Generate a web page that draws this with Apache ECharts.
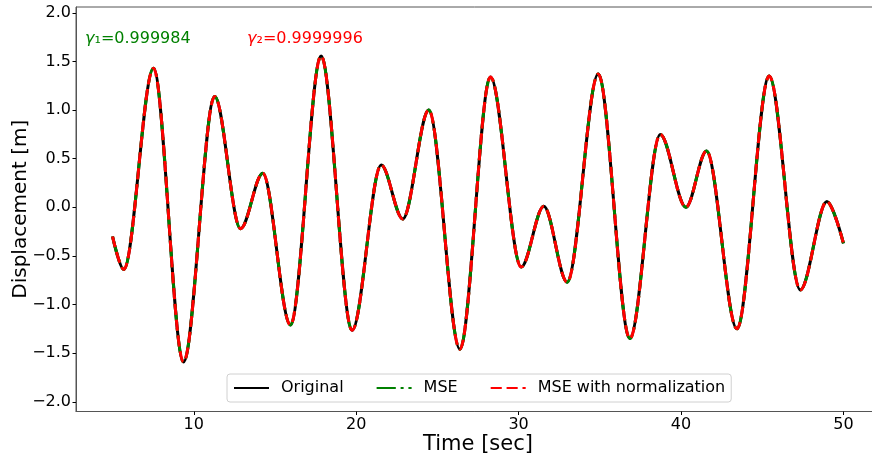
<!DOCTYPE html>
<html><head><meta charset="utf-8">
<script src="https://cdn.jsdelivr.net/npm/echarts@6/dist/echarts.min.js"></script>
<style>html,body{margin:0;padding:0;background:#fff}#c{width:872px;height:459px}</style>
</head><body><div id="c"></div>
<script>
// Time [sec] of the curve's start, turning points and end
const timeSec = [5.00, 5.69, 7.52, 9.37, 11.29, 12.88, 14.25, 15.95, 17.84, 19.75, 21.54, 22.87, 24.47, 26.38, 28.27, 30.16, 31.55, 32.99, 34.90, 36.85, 38.72, 40.30, 41.57, 43.44, 45.43, 47.34, 48.98, 50.00];
// Displacement [m]
const originalDisp = [-0.30, -0.64, 1.43, -1.59, 1.14, -0.22, 0.35, -1.21, 1.555, -1.265, 0.435, -0.12, 1.00, -1.46, 1.34, -0.615, 0.01, -0.77, 1.37, -1.35, 0.75, 0.00, 0.58, -1.25, 1.35, -0.85, 0.06, -0.37];
const mseDisp = [-0.30, -0.64, 1.43, -1.59, 1.14, -0.22, 0.35, -1.21, 1.555, -1.265, 0.435, -0.12, 1.00, -1.46, 1.34, -0.615, 0.01, -0.77, 1.37, -1.35, 0.75, 0.00, 0.58, -1.25, 1.35, -0.85, 0.06, -0.37];
const mseNormDisp = [-0.30, -0.64, 1.43, -1.59, 1.14, -0.22, 0.35, -1.21, 1.555, -1.265, 0.435, -0.12, 1.00, -1.46, 1.34, -0.615, 0.01, -0.77, 1.37, -1.35, 0.75, 0.00, 0.58, -1.25, 1.35, -0.85, 0.06, -0.37];
const xTicks = [10, 20, 30, 40, 50];
const yTicks = [-2, -1.5, -1, -0.5, 0, 0.5, 1, 1.5, 2];
const seriesNames = ['Original', 'MSE', 'MSE with normalization'];
const gammaLabels = ['0.999984', '0.9999996'];

const pair = arr => timeSec.map((t, i) => [t, arr[i]]);
const FONT = 'DejaVu Sans';

const chart = echarts.init(document.getElementById('c'), null, {renderer: 'canvas'});
const lineCommon = {type: 'line', smooth: 0.3333, smoothMonotone: 'x', symbol: 'none', showSymbol: false};
chart.setOption({
  animation: false,
  backgroundColor: '#ffffff',
  textStyle: {fontFamily: FONT},
  grid: {left: 76, right: -8, top: 7, bottom: 47.5, show: true, borderColor: '#555', borderWidth: 1,
    containLabel: false, outerBoundsMode: 'none'},
  xAxis: {
    type: 'value', min: 2.75, max: 52.25,
    name: 'Time [sec]', nameLocation: 'middle', nameGap: 23, nameMoveOverlap: false,
    nameTextStyle: {fontSize: 21, color: '#000', fontFamily: FONT},
    axisLine: {show: true, onZero: false, lineStyle: {color: '#555', width: 1}},
    axisTick: {show: true, length: 3.5, customValues: xTicks, lineStyle: {color: '#000'}},
    axisLabel: {customValues: xTicks, fontSize: 16, color: '#000', margin: 5, fontFamily: FONT},
    splitLine: {show: false}
  },
  yAxis: {
    type: 'value', min: -2.1, max: 2.06,
    name: 'Displacement [m]', nameLocation: 'middle', nameGap: 45, nameMoveOverlap: false,
    nameTextStyle: {fontSize: 20, color: '#000', fontFamily: FONT},
    axisLine: {show: true, onZero: false, lineStyle: {color: '#555', width: 1}},
    axisTick: {show: true, length: 3.5, customValues: yTicks, lineStyle: {color: '#000'}},
    axisLabel: {customValues: yTicks, fontSize: 16, color: '#000', margin: 5, fontFamily: FONT,
      formatter: v => (v < 0 ? '\u2212' : '') + Math.abs(v).toFixed(1)},
    splitLine: {show: false}
  },
  legend: {
    left: 227, top: 374, orient: 'horizontal',
    padding: [6, 6, 6, 6], itemGap: 32, itemWidth: 35, itemHeight: 14,
    backgroundColor: 'rgba(255,255,255,0.8)', borderColor: '#d0d0d0', borderWidth: 1, borderRadius: 3,
    itemStyle: {opacity: 0},
    textStyle: {fontSize: 16, color: '#000', fontFamily: FONT, padding: [0, 0, 0, 7]},
    data: seriesNames
  },
  graphic: [
    {type: 'text', left: 85, top: 31, style: {text: '{g|\u03b3}\u2081=' + gammaLabels[0], fill: '#008000', font: '16px "DejaVu Sans"',
      rich: {g: {fontStyle: 'italic', fontSize: 16, fill: '#008000', fontFamily: FONT}}}},
    {type: 'text', left: 247, top: 31, style: {text: '{g|\u03b3}\u2082=' + gammaLabels[1], fill: '#ff0000', font: '16px "DejaVu Sans"',
      rich: {g: {fontStyle: 'italic', fontSize: 16, fill: '#ff0000', fontFamily: FONT}}}}
  ],
  series: [
    Object.assign({name: seriesNames[0], data: pair(originalDisp),
      lineStyle: {color: '#000000', width: 3, type: 'solid'}, itemStyle: {color: '#000000'}, z: 2}, lineCommon),
    Object.assign({name: seriesNames[1], data: pair(mseDisp),
      lineStyle: {color: '#008000', width: 3, type: [19.2, 4.8, 3, 4.8]}, itemStyle: {color: '#008000'}, z: 3}, lineCommon),
    Object.assign({name: seriesNames[2], data: pair(mseNormDisp),
      lineStyle: {color: '#ff0000', width: 3, type: [11.1, 4.8]}, itemStyle: {color: '#ff0000'}, z: 4}, lineCommon)
  ]
});
</script></body></html>
